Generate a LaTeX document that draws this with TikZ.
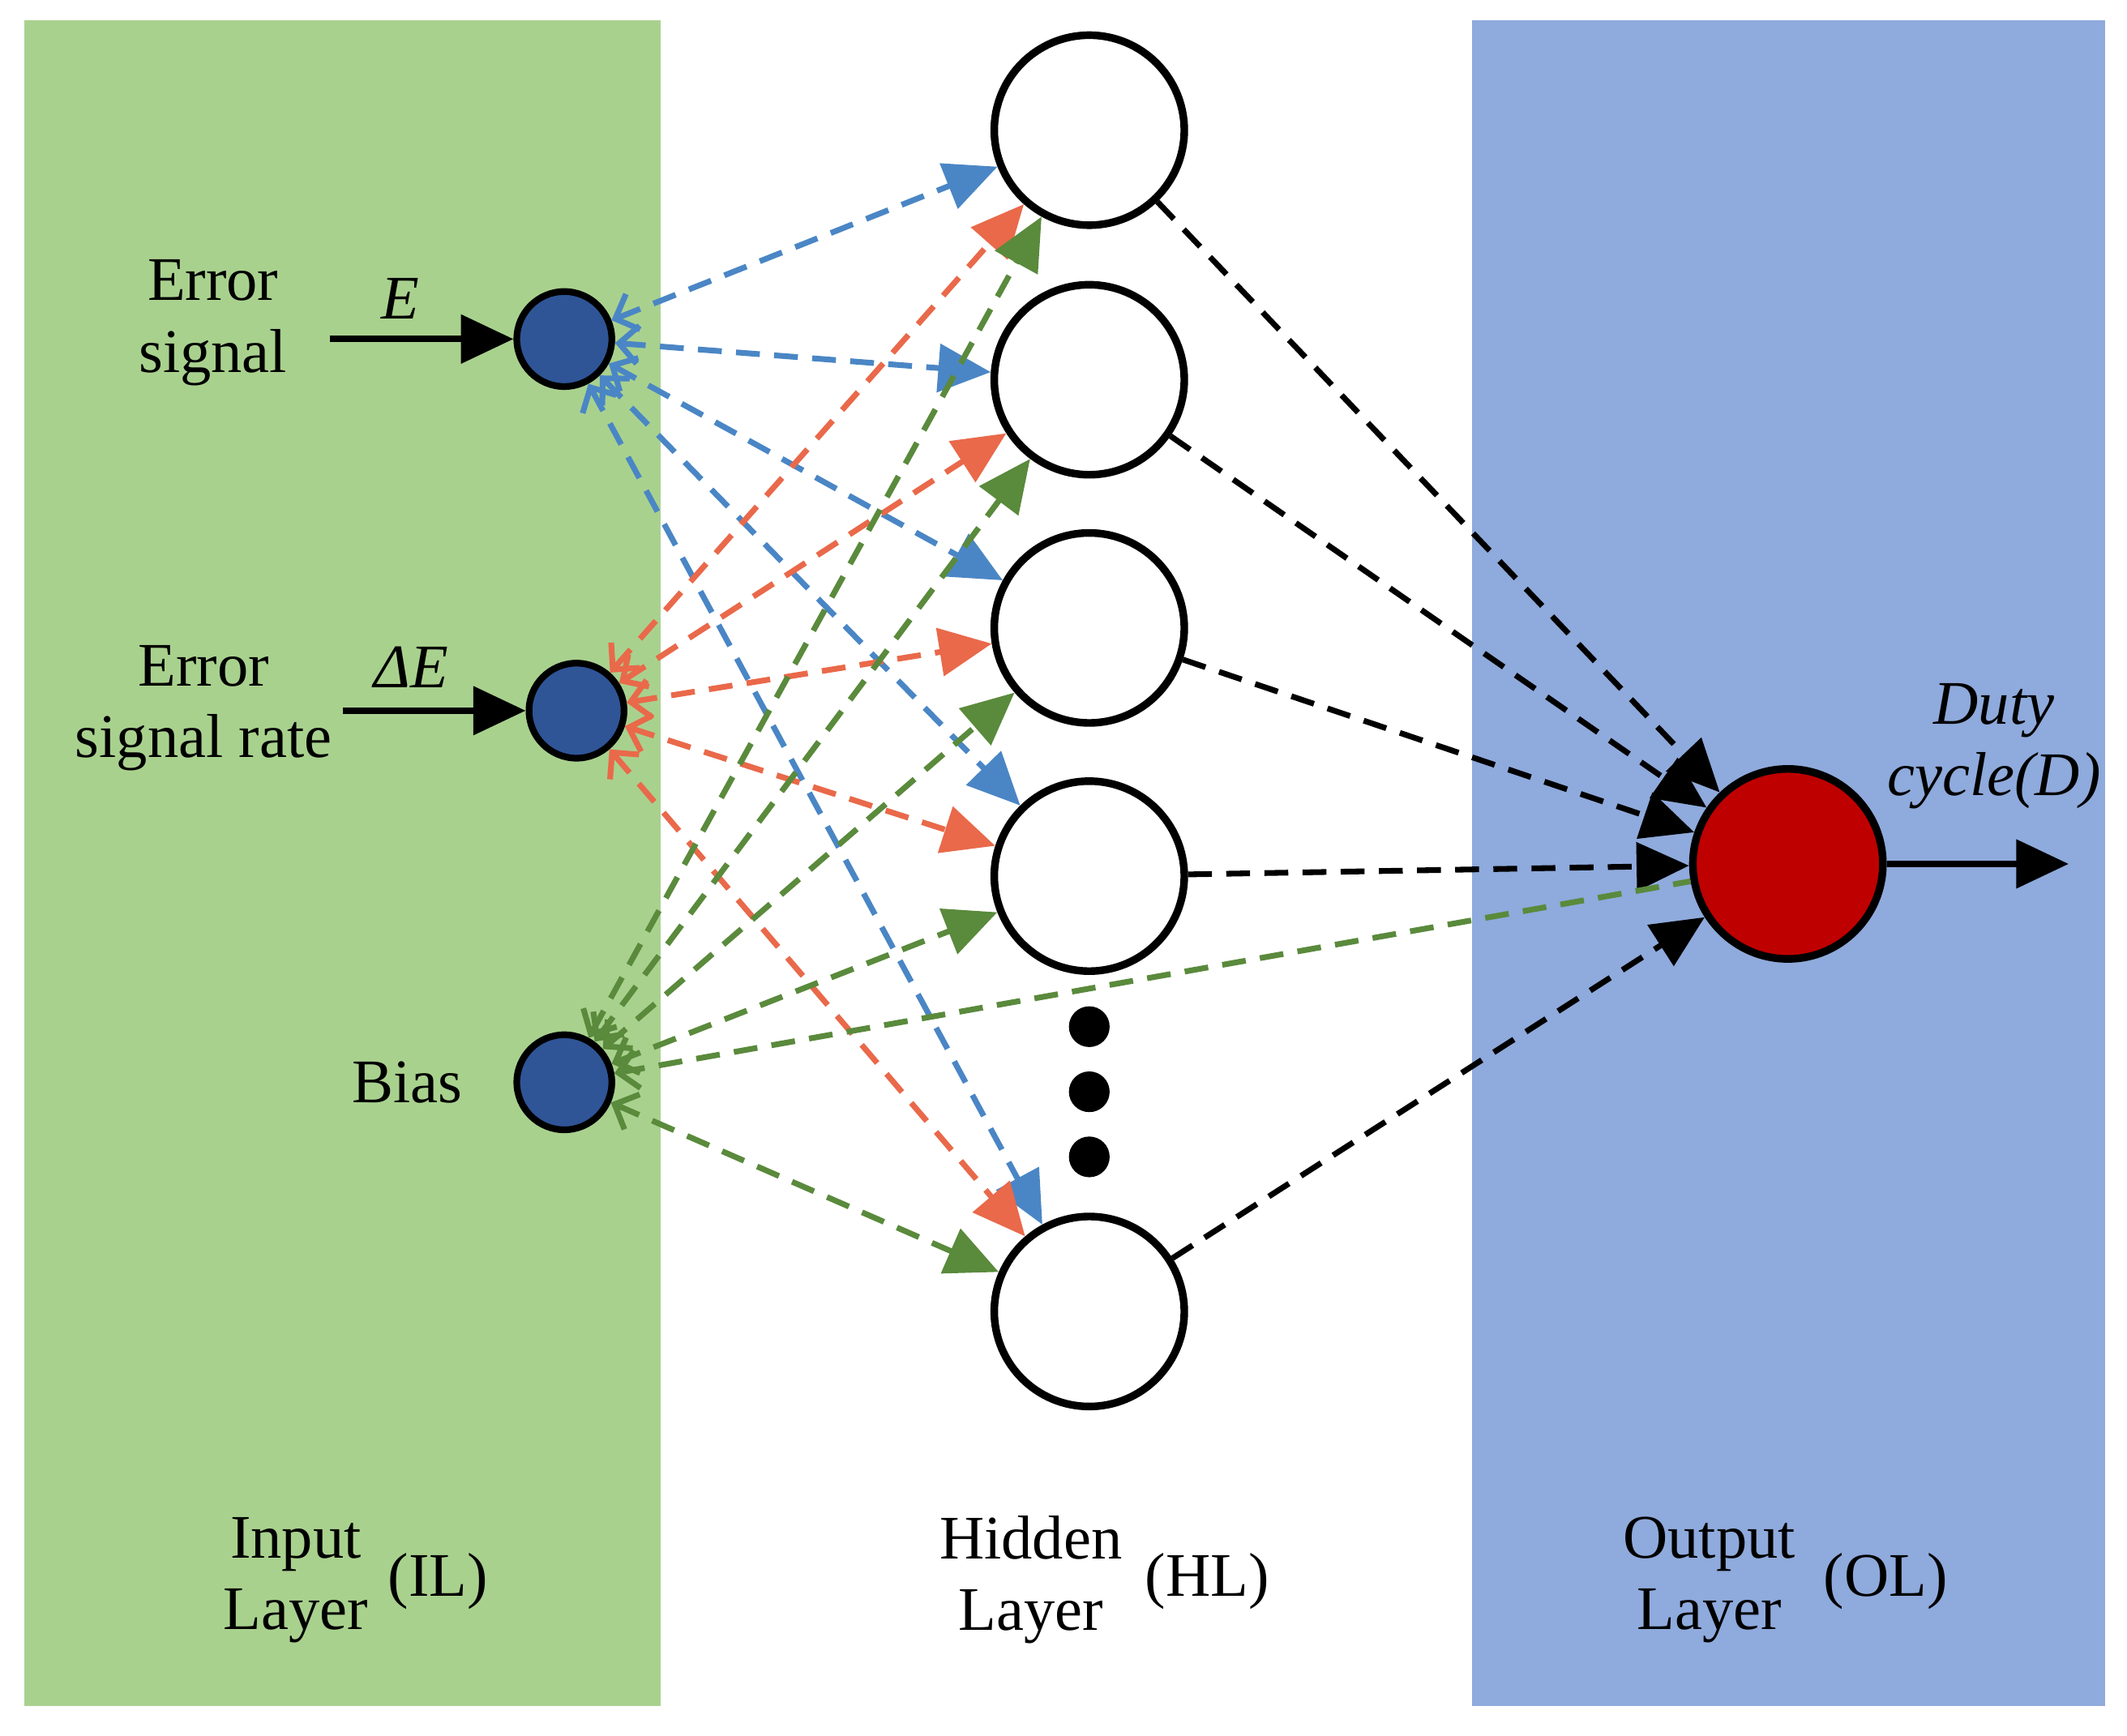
\documentclass[tikz,border=0pt]{standalone}
\usepackage{fontspec}
\setmainfont{Liberation Serif}
\usetikzlibrary{arrows.meta}
\begin{document}
\begin{tikzpicture}[x=0.01cm,y=-0.01cm,
  hid/.style={circle,draw,line width=1.6pt,fill=white,minimum size=1.4cm,inner sep=0},
  inp/.style={circle,draw,line width=1.4pt,fill=nblue,minimum size=0.7cm,inner sep=0},
  dl/.style={dashed,line width=1.2pt,dash pattern=on 5pt off 3pt,arrows={Straight Barb[length=4pt]-Triangle[length=11pt,width=10pt]}},
  lab/.style={font=\fontsize{13}{15}\selectfont,align=center,inner sep=0}]
\definecolor{ngreen}{HTML}{A9D18E}
\definecolor{nblueb}{HTML}{8FAADC}
\definecolor{nblue}{HTML}{2F5597}
\definecolor{cb}{HTML}{4A86C5}
\definecolor{co}{HTML}{E9694A}
\definecolor{cg}{HTML}{5A8A3C}
\useasboundingbox (0,0) rectangle (1568,1280);
\fill[white] (0,0) rectangle (1568,1280);
\fill[ngreen] (18,15) rectangle (487,1258);
\fill[nblueb] (1085,15) rectangle (1552,1258);
\node[hid] (h1) at (803,96) {};
\node[hid] (h2) at (803,280) {};
\node[hid] (h3) at (803,463) {};
\node[hid] (h4) at (803,646) {};
\node[hid] (h5) at (803,967) {};
\foreach \y/\n in {757/d1,805/d2,853/d3} \fill (803,\y) circle (0.15cm);
\node[inp] (i1) at (416,250) {};
\node[inp] (i2) at (425,524) {};
\node[inp] (i3) at (416,798) {};
\node[circle,draw,line width=1.6pt,fill=red!75!black,minimum size=1.4cm,inner sep=0] (o) at (1318,637) {};
\foreach \h in {h1,h2,h3,h4,h5} \draw[dl,cb] (i1) -- (\h);
\foreach \h in {h1,h2,h3,h4,h5} \draw[dl,co] (i2) -- (\h);
\foreach \h in {h1,h2,h3,h4,h5} \draw[dl,cg] (i3) -- (\h);
\foreach \h in {h1,h2,h3,h4,h5} \draw[dashed,line width=1.2pt,dash pattern=on 5pt off 3pt,-{Triangle[length=11pt,width=10pt]}] (\h) -- (o);
\draw[dashed,line width=1.2pt,dash pattern=on 5pt off 3pt,cg,{Straight Barb[length=4pt]}-] (i3) -- (o);
\coordinate (e0) at (243,250);
\coordinate (de0) at (253,524);
\coordinate (out) at (1525,637);
\draw[line width=1.4pt,-{Triangle[length=11pt,width=10pt]}] (e0) -- (i1);
\draw[line width=1.4pt,-{Triangle[length=11pt,width=10pt]}] (de0) -- (i2);
\draw[line width=1.4pt,-{Triangle[length=11pt,width=10pt]}] (o) -- (out);
\node[lab] (t1) at (157,238) {Error\\signal};
\node[lab] (t2) at (295,220) {\itshape E};
\node[lab] (t3) at (150,522) {Error\\signal rate};
\node[lab] (t4) at (303,492) {\itshape ΔE};
\node[lab] (t5) at (300,798) {Bias};
\node[lab] (t6) at (1470,550) {\itshape Duty\\\itshape cycle(D)};
\node[lab] (b1) at (218,1165) {Input\\Layer};
\node[lab] (b1a) at (323,1166) {(IL)};
\node[lab] (b2) at (760,1165) {Hidden\\Layer};
\node[lab] (b2a) at (890,1166) {(HL)};
\node[lab] (b3) at (1260,1165) {Output\\Layer};
\node[lab] (b3a) at (1390,1166) {(OL)};
\end{tikzpicture}
\end{document}
